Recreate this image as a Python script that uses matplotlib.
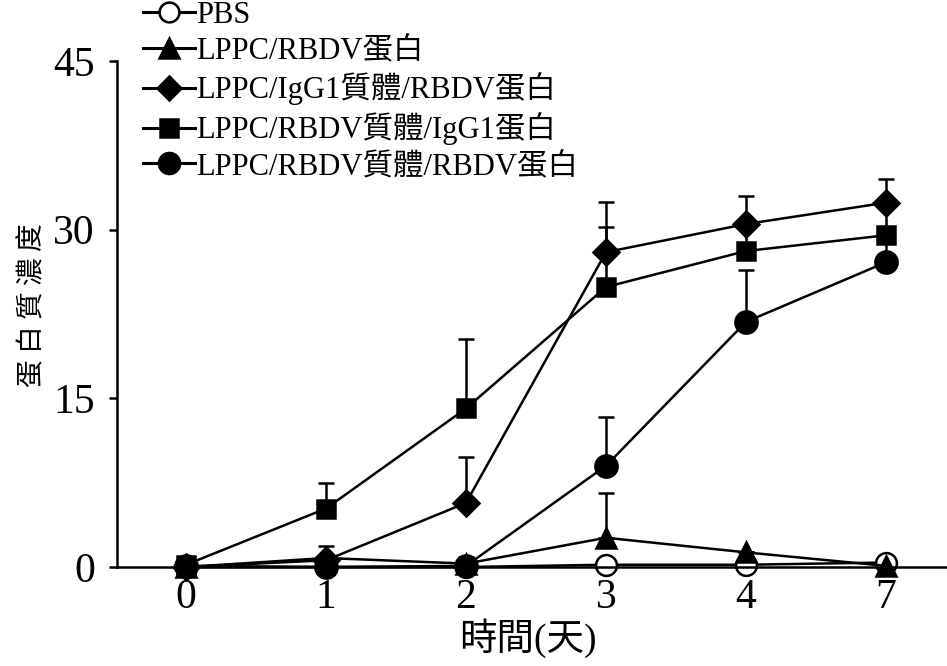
import matplotlib
matplotlib.use("Agg")
import matplotlib.pyplot as plt
from matplotlib.lines import Line2D
import numpy as np

plt.rcParams["font.family"] = ["Liberation Serif", "Noto Sans CJK TC"]

days = ["0", "1", "2", "3", "4", "7"]

labels = [
    "PBS",
    "LPPC/RBDV蛋白",
    "LPPC/IgG1質體/RBDV蛋白",
    "LPPC/RBDV質體/IgG1蛋白",
    "LPPC/RBDV質體/RBDV蛋白",
]

pbs = [0.0, 0.0, 0.0, 0.2, 0.2, 0.4]
pbs_err = [0, 0, 0, 0, 0, 0]

rbdv_protein = [0.0, 0.8, 0.3, 2.6, 1.3, 0.1]
rbdv_protein_err = [0, 1.1, 0.6, 4.0, 0, 0]

igg_plasmid = [0.0, 0.6, 5.7, 28.0, 30.5, 32.4]
igg_plasmid_err = [0, 0, 4.1, 4.5, 2.5, 2.1]

rbdv_plasmid_igg = [0.2, 5.2, 14.1, 24.9, 28.1, 29.5]
rbdv_plasmid_igg_err = [0, 2.3, 6.2, 5.3, 2.0, 2.5]

rbdv_plasmid_rbdv = [0.1, 0.0, 0.1, 9.0, 21.8, 27.1]
rbdv_plasmid_rbdv_err = [0, 0, 0, 4.3, 4.6, 1.8]

series = [pbs, rbdv_protein, igg_plasmid, rbdv_plasmid_igg, rbdv_plasmid_rbdv]
errors = [pbs_err, rbdv_protein_err, igg_plasmid_err, rbdv_plasmid_igg_err, rbdv_plasmid_rbdv_err]
markers = ["o", "^", "D", "s", "o"]
msizes = [15, 15, 13, 13, 16]
faces = ["white", "black", "black", "black", "black"]

fig = plt.figure(figsize=(9.47, 6.66), dpi=100)
ax = fig.add_axes([117 / 947, 1 - 567 / 666, 1 - 117 / 947, (567 - 61) / 666])

x = np.arange(len(days))
handles = []
for vals, err, m, ms, fc, lab in zip(series, errors, markers, msizes, faces, labels):
    err = np.array(err)
    ax.errorbar(x, vals, yerr=[np.zeros_like(err), err], color="black",
                marker=m, markersize=ms, markerfacecolor=fc,
                markeredgecolor="black", markeredgewidth=1.8,
                linewidth=1.8, elinewidth=1.8, capsize=6, capthick=1.8,
                clip_on=False)
    handles.append(Line2D([], [], color="black", linewidth=2.2, marker=m,
                          markersize=ms * 0.95, markerfacecolor=fc,
                          markeredgecolor="black", markeredgewidth=1.8))

ax.set_xlim(-0.493, 5.436)
ax.set_ylim(0, 45)
ax.set_xticks(x)
ax.set_xticklabels(days)
ax.set_yticks([0, 15, 30, 45])
ax.tick_params(axis="x", length=0, labelsize=30, pad=8)
ax.tick_params(axis="y", length=6, width=1.8, labelsize=30, pad=10, direction="out")

for side in ["top", "right"]:
    ax.spines[side].set_visible(False)
ax.spines["left"].set_linewidth(1.8)
ax.spines["bottom"].set_linewidth(1.8)

fig.text(32 / 947, 1 - 305 / 666, "蛋 白 質 濃 度", rotation=90, ha="center", va="center",
         fontsize=20, family=["Noto Sans CJK TC"])
fig.text(528 / 947, 1 - 638 / 666, "時間(天)", ha="center", va="center",
         fontsize=27, family=["Liberation Serif", "Noto Sans CJK TC"])

leg = fig.legend(handles=handles, labels=labels, loc="upper left",
                 bbox_to_anchor=(143 / 947, 1 - 1 / 666), frameon=False, fontsize=22,
                 handlelength=1.7, handletextpad=0.05, labelspacing=0.22,
                 borderpad=0, borderaxespad=0)

fig.savefig("out.png", dpi=100)
